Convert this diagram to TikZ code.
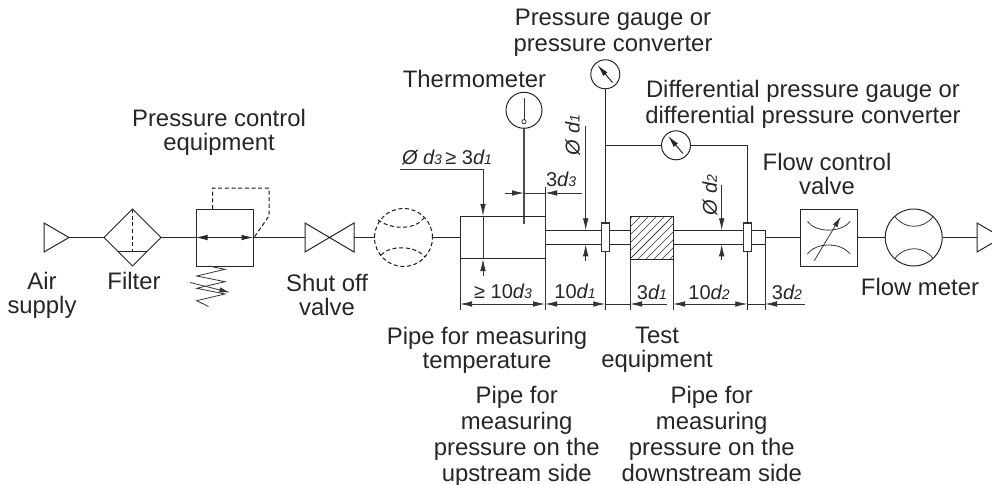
\documentclass[tikz,border=0pt]{standalone}
\usepackage{fontspec}
\setmainfont{Liberation Sans}
\usetikzlibrary{arrows.meta}
\tikzset{
 ln/.style={draw=black!85,line width=0.75pt},
 thin line/.style={draw=black!80,line width=0.6pt},
 dash line/.style={draw=black!90,line width=0.75pt,dash pattern=on 3pt off 2pt},
 tip/.style={-{Latex[length=9pt,width=4.2pt]}},
 tips/.style={{Latex[length=9pt,width=4.2pt]}-{Latex[length=9pt,width=4.2pt]}},
 lbl/.style={font=\fontsize{17.9pt}{18pt}\selectfont,text=black!85,align=center,inner sep=0pt,outer sep=0pt},
 lbltall/.style={font=\fontsize{17.9pt}{19.5pt}\selectfont,text=black!85,align=center,inner sep=0pt,outer sep=0pt},
 dim/.style={font=\fontsize{15pt}{16pt}\selectfont,text=black!85,inner sep=0pt,outer sep=0pt},
}
\newcommand{\subn}[1]{{\fontsize{10.5pt}{10pt}\selectfont\itshape #1}}
\begin{document}
\begin{tikzpicture}[x=0.75pt,y=-0.75pt]
\useasboundingbox (0,0) rectangle (992,485);
\clip (0,0) rectangle (992,485);
% gauges
\node[circle,ln,minimum size=21.75pt,inner sep=0pt] (g1) at (605.3,74.3) {};
\node[circle,ln,minimum size=21.75pt,inner sep=0pt] (g2) at (676,145.3) {};
\node[circle,ln,minimum size=27pt,inner sep=0pt] (th) at (524,110.3) {};
\draw[ln,tip] (612.5,82.5) -- (597.5,65);
\draw[ln,tip] (683,153.5) -- (668,136);
% thermometer
\draw[thin line] (524,98.5) -- (524,119.7);
\draw[thin line] (524,121.7) circle (1.6pt);
\draw[draw=black!70,line width=0.8pt] (th.south) -- (524,224);
% equipment line
\draw[ln] (44,223) -- (69,237.5) -- (44,252) -- cycle;
\draw[ln] (69,237.5) -- (104,237.5);
\draw[ln] (104,237.5) -- (132.5,209) -- (161,237.5) -- (132.5,266) -- cycle;
\draw[ln] (118,251.5) -- (147,251.5);
\draw[dash line] (132.5,209) -- (132.5,251);
\draw[ln] (161,237.5) -- (196,237.5);
\node[draw=black!85,line width=0.75pt,minimum width=42.75pt,minimum height=42.75pt,inner sep=0pt] (reg) at (224.5,237.5) {};
\draw[ln,tips] (reg.west) -- (reg.east);
\draw[dash line] (212.5,209) -- (212.5,188) -- (269,188) -- (269,216) -- (254,237.5);
\draw[thin line] (208.5,266) -- (225,269.3) -- (196.7,276) -- (225,281.7) -- (196.7,288.3) -- (225,294) -- (196.7,300.7) -- (208.5,306.5);
\draw[thin line,-{Latex[length=8pt,width=4pt]}] (190,282.5) -- (230,292.5);
\draw[ln] (253,237.5) -- (305,237.5);
\draw[ln] (305,223) -- (354,252) -- (354,223) -- (305,252) -- cycle;
\draw[ln] (354,237.5) -- (374.5,237.5);
\node[circle,dash line,minimum size=43.5pt,inner sep=0pt] (cf) at (403.5,237.5) {};
\draw[dash line] (378,220) .. controls (392,230) and (415,230) .. (424,218);
\draw[dash line] (381,255) .. controls (390,245) and (415,245) .. (425,257);
\draw[ln] (cf.east) -- (460,237.5);
% measuring pipe
\draw[ln] (460,216) rectangle (545,258.7);
\draw[ln] (545,230.3) -- (630,230.3) (545,244.3) -- (630,244.3);
\draw[ln] (673,230.3) -- (765,230.3) (673,244.3) -- (765,244.3) (765,230.3) -- (765,244.3);
\filldraw[fill=white,draw=black!80,line width=0.8pt] (601.3,223) rectangle (609.3,251.7);
\filldraw[fill=white,draw=black!80,line width=0.8pt] (743.3,223) rectangle (751.3,251.7);
\begin{scope}
\clip (630,216.5) rectangle (673,259);
\foreach \k in {0,...,11} {
  \draw[thin line,line width=0.5pt] ({630+\k*8},259) -- ({630+\k*8+50},209);
  \draw[thin line,line width=0.5pt] ({630-\k*8},259) -- ({630-\k*8+50},209);
}
\end{scope}
\draw[ln] (630,216.5) rectangle (673,259);
\draw[ln] (g1.south) -- (605.3,223);
\draw[ln] (605.3,251.7) -- (605.3,310);
\draw[ln] (605.3,145.3) -- (g2.west);
\draw[ln] (g2.east) -- (747.3,145.3) -- (747.3,223);
\draw[ln] (747.3,251.7) -- (747.3,310);
% right side
\draw[ln] (765,237.5) -- (800,237.5);
\node[draw=black!85,line width=0.75pt,minimum width=42.75pt,minimum height=42.75pt,inner sep=0pt] (fcv) at (828.5,237.5) {};
\draw[thin line] (807.5,221.5) .. controls (816,233) and (841,233) .. (850,221.5);
\draw[thin line] (807.5,254) .. controls (816,242) and (841,242) .. (850,254);
\draw[thin line,-{Latex[length=8pt,width=4pt]}] (814.3,260.7) -- (840.7,216.7);
\node[circle,ln,minimum size=42.75pt,inner sep=0pt] (fm) at (913.7,237.5) {};
\draw[ln] (fcv.east) -- (fm.west);
\draw[thin line] (895,216.7) .. controls (905,229.5) and (923,229.5) .. (933,216.7);
\draw[thin line] (895,258.3) .. controls (905,245.5) and (923,245.5) .. (933,258.3);
\draw[ln] (fm.east) -- (977,237.5);
\draw[ln] (977,223) -- (1002,237.5) -- (977,252) -- cycle;
% dims
\draw[thin line] (460,258.7) -- (460,310);
\draw[thin line] (545,187) -- (545,310);
\draw[thin line] (630,259) -- (630,310);
\draw[thin line] (673,259) -- (673,310);
\draw[thin line] (765,244.3) -- (765,310);
\draw[thin line,tips] (460,304) -- (545,304);
\draw[thin line,tips] (545,304) -- (605.3,304);
\draw[thin line] (605.3,304) -- (630,304);
\draw[thin line,tip] (667,304) -- (630,304);
\draw[thin line,tips] (673,304) -- (747.3,304);
\draw[thin line] (747.3,304) -- (765,304);
\draw[thin line,tip] (805,304) -- (765,304);
\draw[thin line] (400,169) -- (483,169);
\draw[thin line,tip] (483,169) -- (483,216);
\draw[thin line] (483,216) -- (483,259);
\draw[thin line,tip] (483,276) -- (483,259);
\draw[thin line,tip] (505,193) -- (524,193);
\draw[thin line] (524,193) -- (545,193);
\draw[thin line,tip] (582,193) -- (545,193);
\draw[thin line,tip] (585.7,125.7) -- (585.7,230.3);
\draw[thin line,tip] (585.7,261) -- (585.7,244.3);
\draw[thin line,tip] (721.7,184.7) -- (721.7,230.3);
\draw[thin line,tip] (721.7,260) -- (721.7,244.3);
% labels
\node[lbl] (a) at (42,295) {Air\\supply};
\node[lbl] (b) at (134,281) {Filter};
\node[lbl] (d) at (219,132) {Pressure control\\equipment};
\node[lbl] (e) at (327,295) {Shut off\\valve};
\node[lbl] (f) at (474.5,79) {Thermometer};
\node[lbltall] (g) at (613,33) {Pressure gauge or\\pressure converter};
\node[lbltall] (h) at (803,104) {Differential pressure gauge or\\differential pressure converter};
\node[lbl] (i) at (827,174) {Flow control\\valve};
\node[lbl] (j) at (920,287) {Flow meter};
\node[lbl] (k) at (487,350) {Pipe for measuring\\temperature};
\node[lbl] (l) at (657,350) {Test\\equipment};
\node[lbltall] (m) at (516.7,436) {Pipe for\\measuring\\pressure on the\\upstream side};
\node[lbltall] (n) at (711.7,434) {Pipe for\\measuring\\pressure on the\\downstream side};
\node[dim,anchor=west] (o) at (402,158) {\itshape Ø d\subn{3}\,\upshape≥ 3\itshape d\subn{1}};
\node[dim,anchor=west] (p) at (546,179) {3\itshape d\subn{3}};
\node[dim,rotate=90] (q) at (572.7,135) {\itshape Ø d\subn{1}};
\node[dim,rotate=90] (r) at (710,195) {\itshape Ø d\subn{2}};
\node[dim] (s) at (503,291) {≥ 10\itshape d\subn{3}};
\node[dim] (t) at (575,291) {10\itshape d\subn{1}};
\node[dim] (u) at (652,292) {3\itshape d\subn{1}};
\node[dim] (v) at (709,292) {10\itshape d\subn{2}};
\node[dim] (w) at (787,292) {3\itshape d\subn{2}};
\end{tikzpicture}
\end{document}
